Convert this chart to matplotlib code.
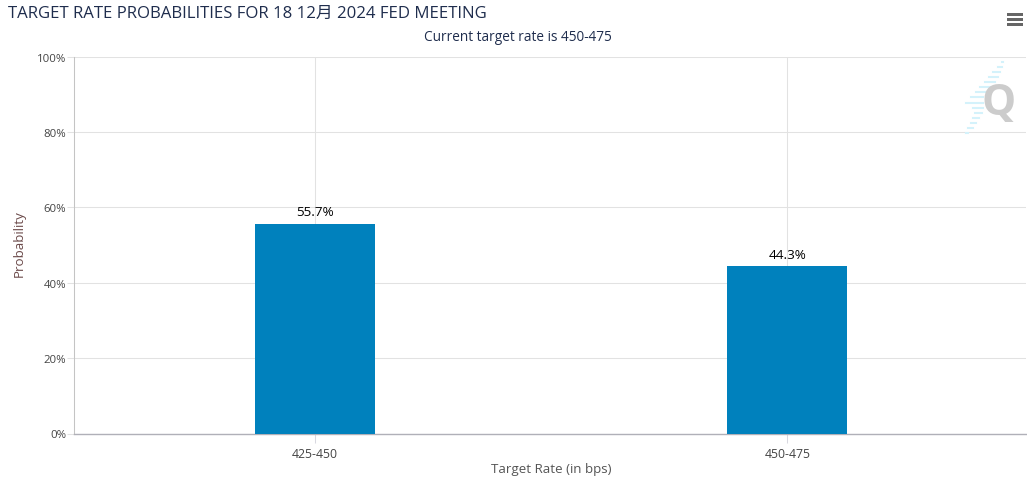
import matplotlib
matplotlib.use("Agg")
import matplotlib.pyplot as plt
from matplotlib.patches import Rectangle

plt.rcParams['font.family'] = ['Open Sans', 'Noto Sans CJK SC', 'DejaVu Sans']

W, H = 1027, 485

rates = ['425-450', '450-475']
probs = [55.7, 44.3]
yticks = [0, 20, 40, 60, 80, 100]

fig = plt.figure(figsize=(W / 100, H / 100), dpi=100)
ax = fig.add_axes([74 / W, 1 - 434.5 / H, 952 / W, 377 / H])

ax.bar(range(len(rates)), probs, width=0.254, color='#0081bd', zorder=3)
for i, p in enumerate(probs):
    ax.annotate('%.1f%%' % p, (i, p), xytext=(0, 4), textcoords='offset points',
                ha='center', va='bottom', fontsize=9.7, color='black', zorder=4)

ax.set_xlim(-0.51, 1.505)
ax.set_ylim(0, 100)
ax.set_xticks(range(len(rates)))
ax.set_xticklabels(rates)
ax.set_yticks(yticks)
ax.set_yticklabels(['%d%%' % y for y in yticks])
ax.grid(True, color='#e2e2e2', linewidth=0.75, zorder=0)
ax.set_axisbelow(True)
ax.tick_params(axis='x', length=6.5, width=0.75, color='#d8d8e0', labelsize=8.8, labelcolor='#444444', pad=3)
ax.tick_params(axis='y', length=5, width=0.75, color='#e2e2e2', labelsize=8.2, labelcolor='#444444', pad=0.5)

for side in ['top', 'right']:
    ax.spines[side].set_visible(False)
ax.spines['left'].set_color('#c4c4c4')
ax.spines['left'].set_linewidth(0.75)
ax.spines['bottom'].set_color('#b0b0b8')
ax.spines['bottom'].set_linewidth(1)

# titles and axis names placed by pixel, like the page does
fig.text(8 / W, 1 - 14 / H, 'TARGET RATE PROBABILITIES FOR 18 12月 2024 FED MEETING',
         fontsize=12.1, color='#1f2d4d', va='center')
fig.text(518 / W, 1 - 38 / H, 'Current target rate is 450-475', fontsize=9.8,
         color='#1f2d4d', ha='center', va='center')
fig.text(551 / W, 1 - 470 / H, 'Target Rate (in bps)', fontsize=9.6, color='#555555',
         ha='center', va='center')
fig.text(19 / W, 1 - 244 / H, 'Probability', fontsize=9.6, color='#6b4a4a', rotation=90,
         ha='center', va='center')

# menu icon
for y in [15.5, 20.5, 25.5]:
    fig.add_artist(Rectangle((1007 / W, 1 - (y + 1.5) / H), 16 / W, 3 / H,
                             transform=fig.transFigure, color='#666666', lw=0))

# watermark
stripes = [(1002, 1003, 63), (998, 1002, 68), (993, 1000, 73), (989, 998, 78), (985, 995, 83),
           (980, 990, 88), (976, 985, 93), (971, 983, 98), (966, 983, 104), (973, 983, 109),
           (975, 982, 114), (973, 979, 119), (971, 976, 124), (968, 973, 129), (966, 968, 134)]
for x0, x1, y in stripes:
    fig.add_artist(plt.Line2D([x0 / W, x1 / W], [1 - y / H, 1 - y / H], transform=fig.transFigure,
                              color='#d4f2fb', linewidth=1.5))
fig.text(998.5 / W, 1 - 103 / H, 'Q', fontsize=31, fontweight='bold', color='#cccccc',
         ha='center', va='center', family='Open Sans')

fig.savefig('out.png', dpi=100)
